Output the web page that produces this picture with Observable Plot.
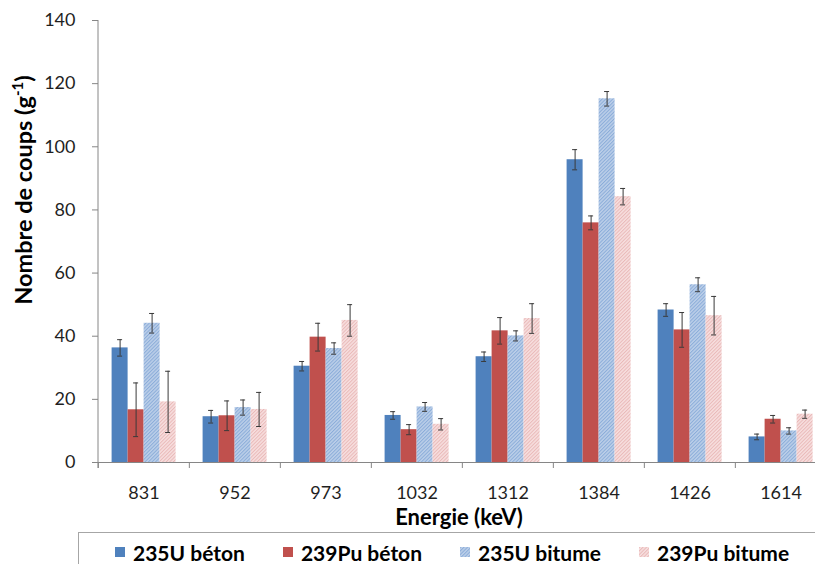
<!DOCTYPE html>
<html>
<head>
<meta charset="utf-8">
<script src="https://cdn.jsdelivr.net/npm/d3@7"></script>
<script src="https://cdn.jsdelivr.net/npm/@observablehq/plot@0.6"></script>
<style>
  html, body { margin: 0; padding: 0; background: #fff; overflow: hidden; }
  body { width: 815px; height: 564px; position: relative; font-family: Lato, "Open Sans", sans-serif; }
  #chart { position: absolute; left: 0; top: 0; }
  #legend {
    position: absolute; left: 78px; top: 532px; width: 800px; height: 40px;
    border: 1px solid #a6a6a6; box-sizing: border-box;
    display: flex; align-items: center; padding-left: 36px; gap: 38px;
    font-weight: bold; font-size: 21px; color: #000;
  }
  .item { display: flex; align-items: center; gap: 8px; }
  .item svg { display: block; }
</style>
</head>
<body>
<svg width="0" height="0" style="position:absolute">
  <defs>
    <pattern id="hatchU" patternUnits="userSpaceOnUse" width="2.5" height="2.5" patternTransform="rotate(45)">
      <rect width="2.5" height="2.5" fill="#bccfe9"/>
      <rect width="1" height="2.5" fill="#8aacd9"/>
    </pattern>
    <pattern id="hatchP" patternUnits="userSpaceOnUse" width="2.5" height="2.5" patternTransform="rotate(45)">
      <rect width="2.5" height="2.5" fill="#f7dfdf"/>
      <rect width="1" height="2.5" fill="#e9b9b8"/>
    </pattern>
  </defs>
</svg>
<div id="chart"></div>
<div id="legend"></div>
<script>
// ---- data ----
const energies = ["831", "952", "973", "1032", "1312", "1384", "1426", "1614"];
const seriesNames = ["235U béton", "239Pu béton", "235U bitume", "239Pu bitume"];
const seriesFills = ["#4f81bd", "#c0504d", "url(#hatchU)", "url(#hatchP)"];

const u235Beton      = [36.3, 14.5, 30.5, 14.9, 33.5, 95.9, 48.3, 8.1];
const u235BetonErr   = [2.6, 2.0, 1.5, 1.2, 1.5, 3.2, 2.0, 0.9];
const pu239Beton     = [16.7, 14.8, 39.7, 10.4, 41.7, 75.9, 42.0, 13.7];
const pu239BetonErr  = [8.5, 4.7, 4.4, 1.6, 4.2, 2.2, 5.5, 1.2];
const u235Bitume     = [44.1, 17.4, 36.1, 17.6, 40.1, 115.2, 56.3, 10.0];
const u235BitumeErr  = [3.1, 2.4, 1.8, 1.4, 1.6, 2.3, 2.2, 1.0];
const pu239Bitume    = [19.2, 16.8, 45.0, 12.1, 45.6, 84.2, 46.5, 15.3];
const pu239BitumeErr = [9.7, 5.4, 5.0, 1.8, 4.7, 2.6, 6.1, 1.3];

const yTicks = [0, 20, 40, 60, 80, 100, 120, 140];
const xTitle = "Energie (keV)";
const yTitle = "Nombre de coups (g";
const yTitleSup = "-1";

// ---- table ----
const values = [u235Beton, pu239Beton, u235Bitume, pu239Bitume];
const errors = [u235BetonErr, pu239BetonErr, u235BitumeErr, pu239BitumeErr];
const data = [];
energies.forEach((e, i) => {
  seriesNames.forEach((s, j) => {
    data.push({energy: e, series: s, value: values[j][i], lo: values[j][i] - errors[j][i], hi: values[j][i] + errors[j][i]});
  });
});

const errColor = "#3a3a3a";
const axisColor = "#868686";

const chart = Plot.plot({
  width: 815,
  height: 530,
  marginLeft: 96.4,
  marginRight: -11.6,
  marginTop: 20,
  marginBottom: 68,
  style: {fontFamily: "Lato, 'Open Sans', sans-serif", fontSize: "18px", color: "#1f1f1f", background: "transparent", overflow: "visible"},
  fx: {domain: energies, padding: 0, label: null},
  x: {domain: seriesNames, paddingInner: 0, paddingOuter: 0.735, axis: null},
  y: {domain: [0, 140], ticks: yTicks, label: null},
  color: {domain: seriesNames, range: seriesFills},
  marks: [
    Plot.barY(data, {fx: "energy", x: "series", y: "value", fill: "series"}),
    Plot.ruleY([0], {stroke: axisColor}),
    Plot.ruleX(data, {fx: "energy", x: "series", y1: "lo", y2: "hi", stroke: errColor, strokeWidth: 1}),
    Plot.tickY(data, {fx: "energy", x: "series", y: "lo", stroke: errColor, insetLeft: 5.5, insetRight: 5.5}),
    Plot.tickY(data, {fx: "energy", x: "series", y: "hi", stroke: errColor, insetLeft: 5.5, insetRight: 5.5}),
    Plot.axisY({ticks: yTicks, tickSize: 6, tickPadding: 17, label: null, stroke: axisColor}),
    Plot.axisFx({anchor: "bottom", tickSize: 6, tickFormat: () => "", label: null, dx: -45.65, stroke: axisColor}),
    Plot.axisFx({anchor: "bottom", tickSize: 0, tickPadding: 24, label: null})
  ]
});

document.getElementById("chart").appendChild(chart);

// y axis line, from the library's scales
const svg = d3.select(chart.tagName.toLowerCase() === "svg" ? chart : chart.querySelector("svg"));
const fxScale = chart.scale("fx");
const yScale = chart.scale("y");
const x0 = fxScale.apply(energies[0]);
svg.append("line")
  .attr("x1", x0).attr("x2", x0)
  .attr("y1", yScale.apply(140)).attr("y2", yScale.apply(0) + 6)
  .attr("stroke", axisColor);

// axis titles
svg.append("text")
  .attr("x", 459).attr("y", 525)
  .attr("text-anchor", "middle")
  .attr("font-weight", "bold").attr("font-size", 22)
  .attr("font-family", "Lato, 'Open Sans', sans-serif")
  .attr("fill", "#000")
  .text(xTitle);

const yt = svg.append("text")
  .attr("transform", "translate(32,190) rotate(-90)")
  .attr("text-anchor", "middle")
  .attr("font-weight", "bold").attr("font-size", 23.5)
  .attr("font-family", "Lato, 'Open Sans', sans-serif")
  .attr("fill", "#000");
yt.append("tspan").text(yTitle);
yt.append("tspan").attr("font-size", 15).attr("dy", -9).text(yTitleSup);
yt.append("tspan").attr("dy", 9).text(")");

// legend
const legend = d3.select("#legend");
seriesNames.forEach((s, j) => {
  const item = legend.append("div").attr("class", "item");
  item.append("svg").attr("width", 10).attr("height", 10)
    .append("rect").attr("width", 10).attr("height", 10).attr("fill", seriesFills[j]);
  item.append("span").text(s);
});
</script>
</body>
</html>
